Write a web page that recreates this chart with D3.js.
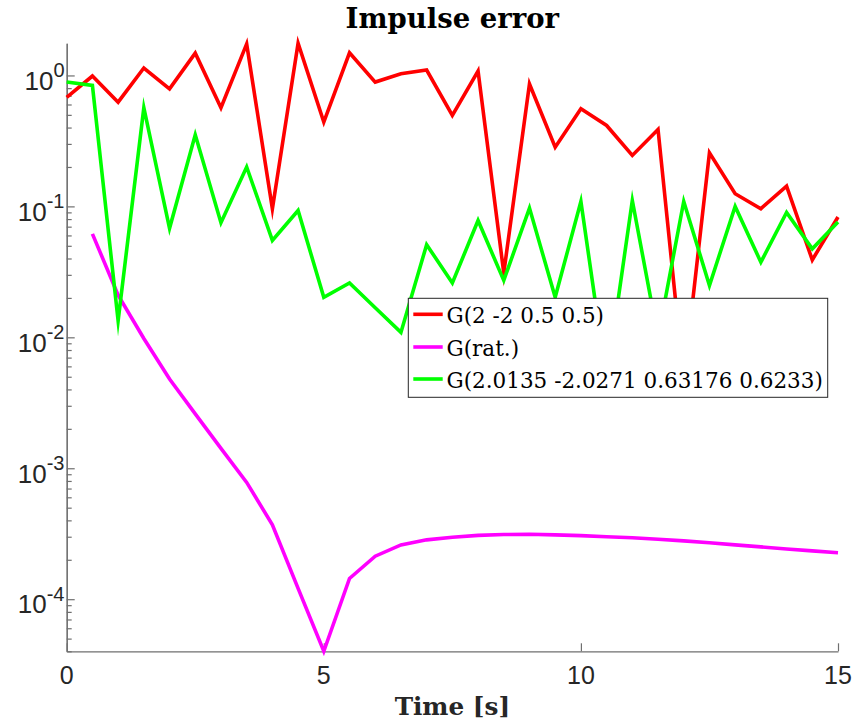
<!DOCTYPE html>
<html>
<head>
<meta charset="utf-8">
<script src="https://cdn.jsdelivr.net/npm/d3@7/dist/d3.min.js"></script>
<style>
  html, body { margin: 0; padding: 0; background: #fff; }
  svg { display: block; }
</style>
</head>
<body>
<svg id="chart" width="853" height="725"></svg>
<script>
// ---- data ----
const time = [0, 0.5, 1, 1.5, 2, 2.5, 3, 3.5, 4, 4.5, 5, 5.5, 6, 6.5, 7, 7.5,
              8, 8.5, 9, 9.5, 10, 10.5, 11, 11.5, 12, 12.5, 13, 13.5, 14, 14.5, 15];

const errNominal = [0.68, 0.99, 0.625, 1.14, 0.79, 1.48, 0.567, 1.74, 0.096, 1.76,
                    0.44, 1.49, 0.89, 1.03, 1.10, 0.495, 1.08, 0.031, 0.86, 0.283,
                    0.556, 0.415, 0.245, 0.387, 0.0047, 0.257, 0.125, 0.096, 0.143, 0.039, 0.083];

// rational approximation starts at t = 0.5
const timeRat = time.slice(1);
const errRat = [0.0617, 0.021, 0.0098, 0.0048, 0.0026, 0.00142, 0.00078, 0.00037, 0.000121,
                0.0000400, 0.000144, 0.000213, 0.00026, 0.000284, 0.000297, 0.000307,
                0.000312, 0.000313, 0.00031, 0.000306, 0.0003, 0.000295, 0.000287,
                0.000279, 0.00027, 0.00026, 0.000251, 0.000242, 0.000234, 0.000226];

const errFitted = [0.89, 0.84, 0.0134, 0.567, 0.068, 0.352, 0.075, 0.20, 0.055, 0.093,
                   0.0202, 0.026, 0.0168, 0.0109, 0.051, 0.026, 0.078, 0.0272, 0.097, 0.0202,
                   0.109, 0.0047, 0.111, 0.010, 0.109, 0.0249, 0.100, 0.0375, 0.090, 0.0474, 0.076];

const seriesNames = ["G(2 -2 0.5 0.5)", "G(rat.)", "G(2.0135 -2.0271 0.63176 0.6233)"];
const seriesColors = ["#ff0000", "#ff00ff", "#00ff00"];

const xTicks = [0, 5, 10, 15];
const yExponents = [0, -1, -2, -3, -4];

const titleText = "Impulse error";
const xLabelText = "Time [s]";

// ---- layout ----
const svg = d3.select("#chart");
const mLeft = 66.7, mRight = 838, mTop = 43.3, mBottom = 651.3;

const series = [
  { x: time, y: errNominal },
  { x: timeRat, y: errRat },
  { x: time, y: errFitted }
].map((s, i) => ({ name: seriesNames[i], color: seriesColors[i],
                   pts: s.x.map((t, j) => [t, s.y[j]]) }));

const allY = errNominal.concat(errRat, errFitted);
const x = d3.scaleLinear().domain(d3.extent(time)).range([mLeft, mRight]);
const y = d3.scaleLog().domain(d3.extent(allY)).range([mBottom, mTop]);

const axisColor = "#6f6f6f";
const textColor = "#262626";

// ---- axes (ticks inward, MATLAB style, box off) ----
const yMajor = yExponents.map(e => Math.pow(10, e));
const yMinor = [];
for (let e = -5; e <= 0; e++) {
  for (let k = 2; k <= 9; k++) {
    const v = k * Math.pow(10, e);
    if (v >= y.domain()[0] && v <= y.domain()[1]) yMinor.push(v);
  }
}

const gyMinor = svg.append("g").attr("transform", `translate(${mLeft},0)`)
  .call(d3.axisLeft(y).tickValues(yMinor).tickSizeInner(-5).tickSizeOuter(0).tickFormat(""));
const gy = svg.append("g").attr("transform", `translate(${mLeft},0)`)
  .call(d3.axisLeft(y).tickValues(yMajor).tickSizeInner(-8).tickSizeOuter(0).tickFormat(""));
const gx = svg.append("g").attr("transform", `translate(0,${mBottom})`)
  .call(d3.axisBottom(x).tickValues(xTicks).tickSizeInner(-8).tickSizeOuter(0).tickFormat(""));

[gyMinor, gy, gx].forEach(g => {
  g.selectAll("path.domain").attr("stroke", axisColor).attr("stroke-width", 1.2);
  g.selectAll(".tick line").attr("stroke", axisColor).attr("stroke-width", 1.2);
});

// x tick labels
svg.append("g").selectAll("text").data(xTicks).join("text")
  .attr("x", d => x(d)).attr("y", 683.5)
  .attr("text-anchor", "middle")
  .attr("font-family", "Liberation Sans, Arial, sans-serif")
  .attr("font-size", 25).attr("fill", textColor)
  .text(d => d);

// y tick labels: 10^e
const yl = svg.append("g").selectAll("text").data(yExponents).join("text")
  .attr("x", 64.5).attr("y", d => y(Math.pow(10, d)) + 14.3)
  .attr("text-anchor", "end")
  .attr("font-family", "Liberation Sans, Arial, sans-serif")
  .attr("font-size", 26).attr("fill", textColor);
yl.append("tspan").text("10");
yl.append("tspan").attr("font-size", 20).attr("dy", -12.4).text(d => d === 0 ? "0" : "-" + Math.abs(d));

// ---- lines ----
const line = d3.line().x(d => x(d[0])).y(d => y(d[1]));
svg.append("g").selectAll("path").data(series).join("path")
  .attr("d", d => line(d.pts))
  .attr("fill", "none")
  .attr("stroke", d => d.color)
  .attr("stroke-width", 3.6)
  .attr("stroke-linejoin", "miter")
  .attr("stroke-miterlimit", 10);

// ---- title and label ----
svg.append("text")
  .attr("x", (mLeft + mRight) / 2).attr("y", 28)
  .attr("text-anchor", "middle")
  .attr("font-family", "DejaVu Serif, serif")
  .attr("font-weight", "bold").attr("font-size", 27.5).attr("fill", "#000")
  .text(titleText);

svg.append("text")
  .attr("x", (mLeft + mRight) / 2).attr("y", 715)
  .attr("text-anchor", "middle")
  .attr("font-family", "DejaVu Serif, serif")
  .attr("font-weight", "bold").attr("font-size", 24.7).attr("fill", textColor)
  .text(xLabelText);

// ---- legend ----
const lg = svg.append("g");
lg.append("rect")
  .attr("x", 408.3).attr("y", 298.3).attr("width", 419.4).attr("height", 99)
  .attr("fill", "#fff").attr("stroke", "#262626").attr("stroke-width", 1);
const rowY = [314.3, 347, 379];
const items = lg.selectAll("g.item").data(series).join("g").attr("class", "item")
  .attr("transform", (d, i) => `translate(0,${rowY[i]})`);
items.append("line")
  .attr("x1", 413.3).attr("x2", 442.7).attr("y1", 0).attr("y2", 0)
  .attr("stroke", d => d.color).attr("stroke-width", 3.6);
items.append("text")
  .attr("x", 446.5).attr("y", 8.5)
  .attr("font-family", "DejaVu Serif, serif")
  .attr("font-size", 21.5).attr("fill", "#000")
  .text(d => d.name);
</script>
</body>
</html>
